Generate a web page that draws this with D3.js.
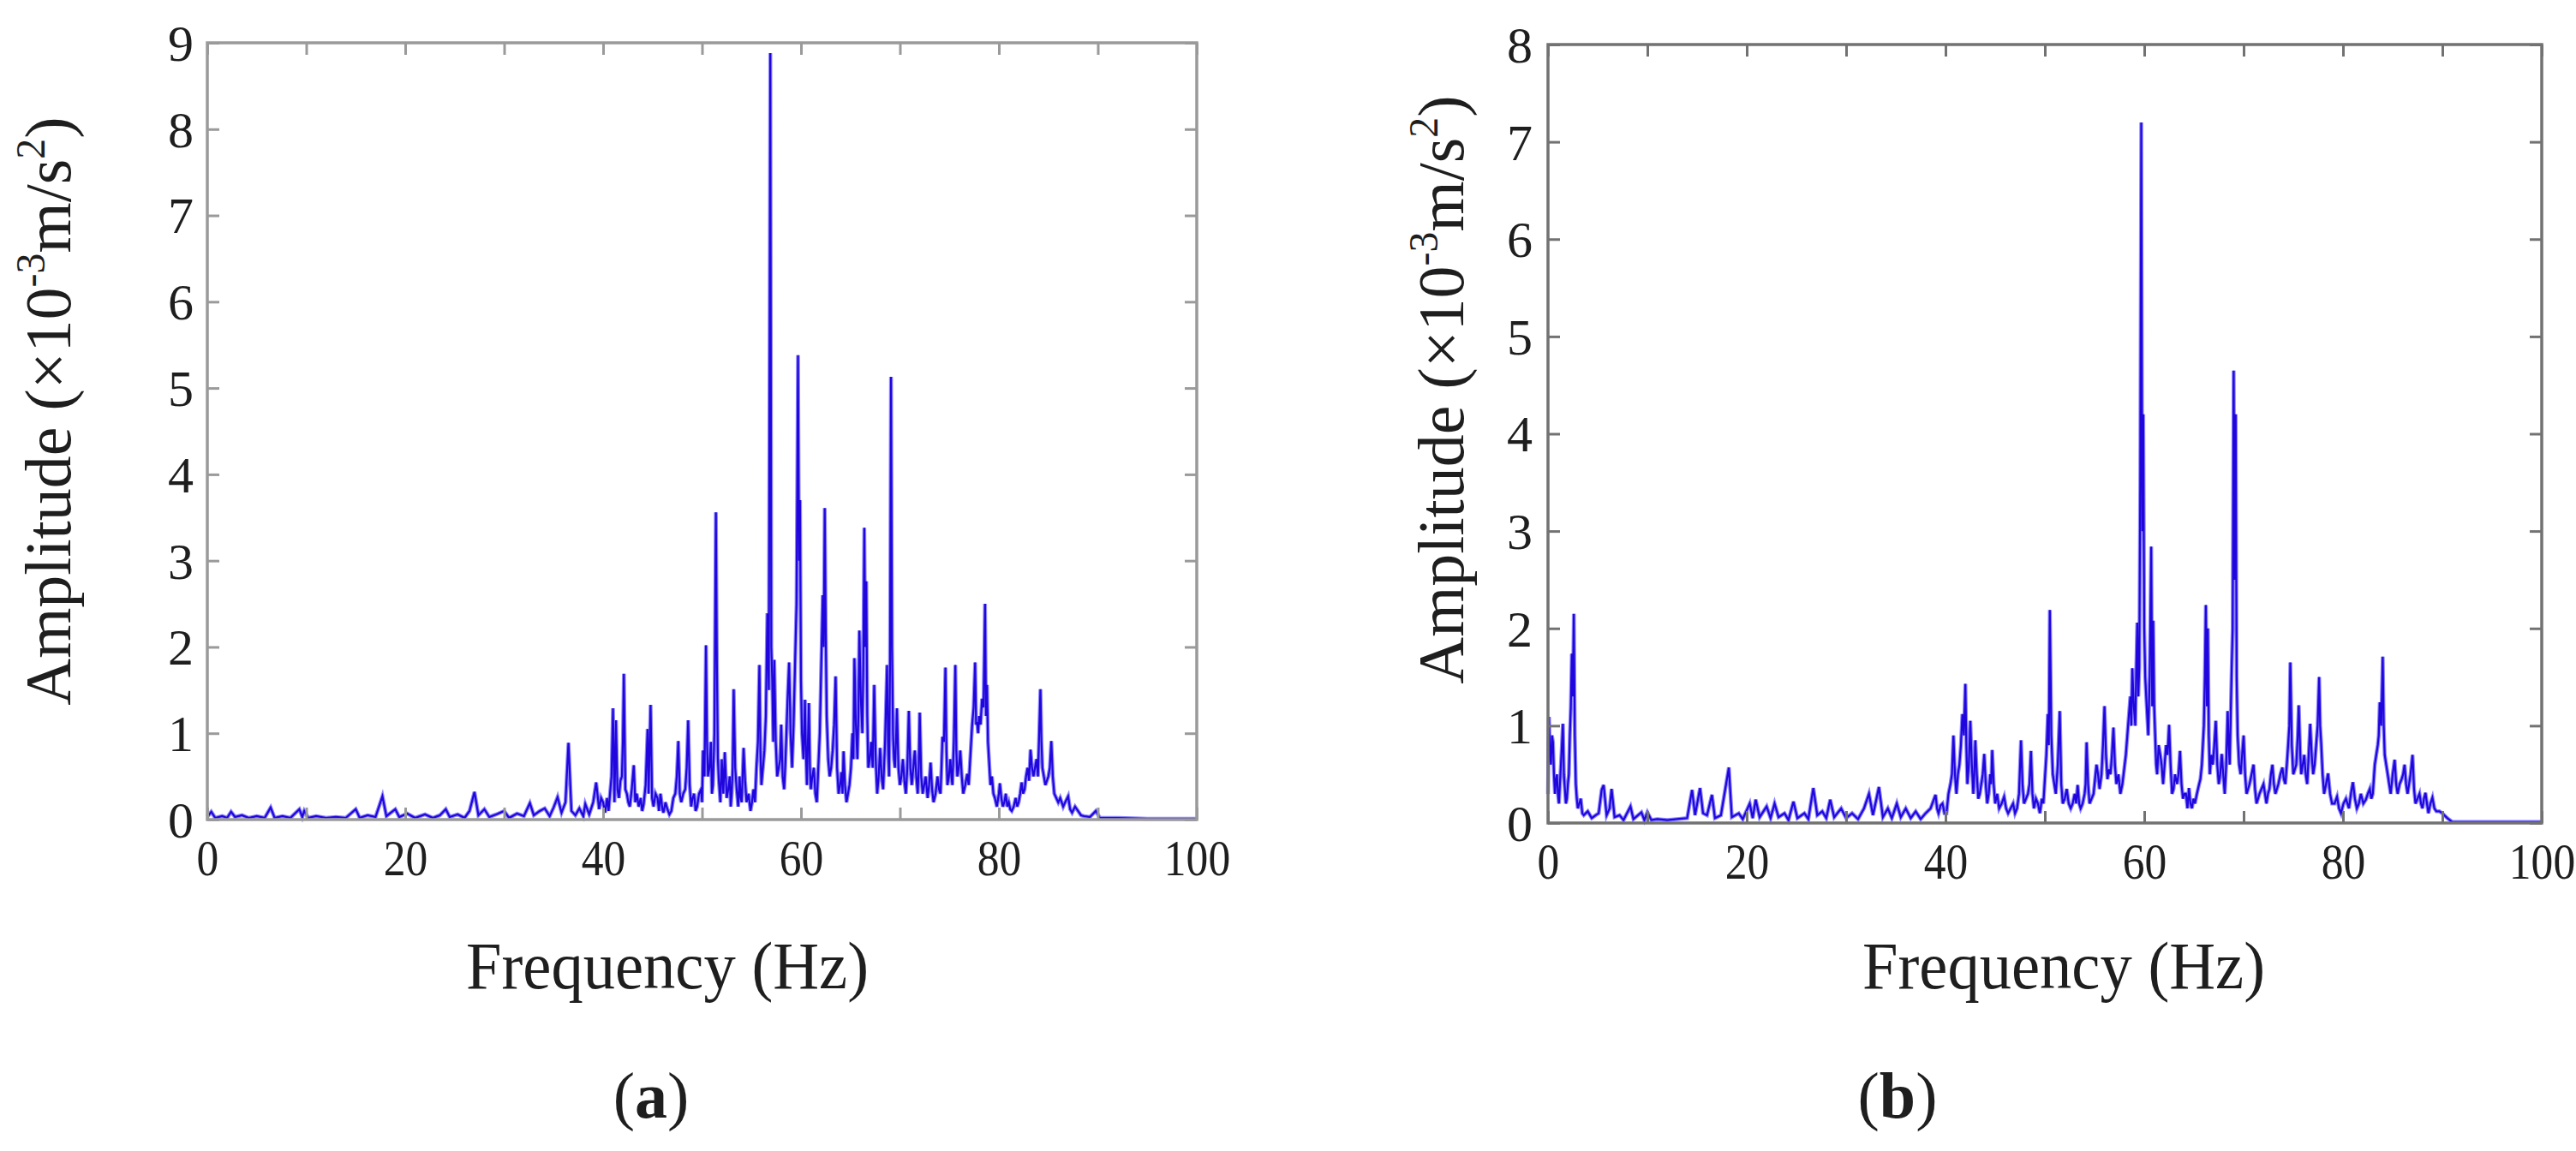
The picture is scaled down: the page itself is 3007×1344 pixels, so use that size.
<!DOCTYPE html>
<html>
<head>
<meta charset="utf-8">
<script src="https://cdn.jsdelivr.net/npm/d3@7"></script>
<style>
  html, body { margin: 0; padding: 0; background: #fff; }
  text { font-family: "Liberation Serif", "Times New Roman", serif; fill: #1e1e1e; }
</style>
</head>
<body>
<div id="chart"></div>
<script>
// spectrum (a): [frequency Hz, amplitude x10^-3 m/s^2]
var specA = [
  [0,0.03],[0.4,0.09],[0.8,0.02],[1.5,0.04],[2.0,0.02],[2.4,0.09],[2.8,0.03],[3.5,0.05],[4.2,0.02],[5.0,0.04],
  [5.8,0.02],[6.4,0.14],[6.8,0.02],[7.6,0.04],[8.4,0.02],[9.3,0.12],[9.6,0.03],[9.8,0.1],[10.2,0.02],[11.0,0.04],
  [12.0,0.02],[13.0,0.03],[14.0,0.02],[15.0,0.12],[15.4,0.02],[16.2,0.05],[17.0,0.03],[17.7,0.27],[18.1,0.04],[19.0,0.12],
  [19.4,0.03],[20.2,0.07],[21.0,0.02],[22.0,0.06],[22.8,0.02],[23.5,0.05],[24.1,0.12],[24.5,0.03],[25.3,0.06],[26.0,0.02],
  [26.5,0.1],[27.0,0.32],[27.4,0.05],[28.0,0.12],[28.5,0.03],[29.2,0.06],[30.0,0.1],[30.5,0.02],[31.3,0.07],[32.0,0.04],
  [32.6,0.19],[33.0,0.05],[33.6,0.1],[34.1,0.13],[34.6,0.04],[35.0,0.14],[35.4,0.26],[35.8,0.08],[36.2,0.2],[36.5,0.89],
  [36.8,0.1],[37.2,0.05],[37.6,0.13],[38.0,0.04],[38.2,0.18],[38.6,0.06],[39.0,0.2],[39.3,0.43],[39.6,0.12],[39.8,0.25],
  [40.0,0.2],[40.2,0.08],[40.4,0.25],[40.55,0.1],[40.7,0.3],[40.85,0.5],[41.0,1.29],[41.15,0.2],[41.3,1.15],[41.45,0.35],
  [41.6,0.25],[41.75,0.45],[41.9,0.5],[42.0,0.9],[42.1,1.69],[42.25,0.35],[42.4,0.3],[42.55,0.2],[42.7,0.15],[42.9,0.35],
  [43.1,0.63],[43.25,0.2],[43.4,0.3],[43.6,0.15],[43.8,0.25],[43.95,0.1],[44.1,0.18],[44.3,0.4],[44.5,1.05],[44.6,0.3],
  [44.8,1.33],[44.95,0.25],[45.1,0.15],[45.3,0.3],[45.5,0.25],[45.65,0.1],[45.8,0.3],[46.0,0.12],[46.1,0.08],[46.3,0.2],
  [46.5,0.12],[46.7,0.06],[46.9,0.1],[47.1,0.25],[47.3,0.3],[47.45,0.5],[47.6,0.91],[47.75,0.3],[47.9,0.2],[48.1,0.3],
  [48.3,0.35],[48.45,0.6],[48.6,1.15],[48.75,0.4],[48.9,0.15],[49.05,0.25],[49.2,0.3],[49.35,0.1],[49.5,0.15],[49.7,0.3],
  [49.9,0.35],[50.0,0.2],[50.1,0.8],[50.25,0.5],[50.4,2.02],[50.5,0.9],[50.6,0.5],[50.75,0.6],[50.9,0.9],[51.0,0.3],
  [51.1,0.4],[51.25,1.0],[51.4,3.56],[51.5,1.82],[51.6,0.7],[51.7,0.45],[51.85,0.2],[52.0,0.7],[52.15,0.3],[52.3,0.78],
  [52.4,0.5],[52.5,0.25],[52.65,0.35],[52.8,0.5],[52.9,0.15],[53.0,0.3],[53.1,0.6],[53.2,1.51],[53.35,0.6],[53.5,0.35],
  [53.65,0.15],[53.8,0.5],[53.9,0.25],[54.0,0.2],[54.1,0.5],[54.2,0.83],[54.35,0.45],[54.5,0.2],[54.7,0.3],[54.9,0.1],
  [55.05,0.2],[55.2,0.35],[55.35,0.2],[55.5,0.6],[55.65,0.9],[55.8,1.79],[55.9,0.8],[56.0,0.4],[56.15,0.6],[56.3,0.8],
  [56.45,1.2],[56.6,2.39],[56.75,1.5],[56.9,8.88],[57.0,2.0],[57.1,1.6],[57.2,0.9],[57.3,1.85],[57.45,0.9],[57.6,0.5],
  [57.75,0.6],[57.9,0.7],[58.0,1.1],[58.15,0.5],[58.3,0.35],[58.4,0.6],[58.5,0.9],[58.65,1.4],[58.8,1.82],[58.95,1.0],
  [59.1,0.6],[59.25,1.1],[59.4,1.8],[59.55,2.5],[59.7,5.38],[59.8,3.0],[59.9,3.7],[60.0,1.6],[60.1,1.0],[60.25,0.7],
  [60.4,1.39],[60.5,0.8],[60.6,0.4],[60.7,0.9],[60.8,1.35],[60.9,0.6],[61.0,0.35],[61.15,0.5],[61.3,0.6],[61.45,0.3],
  [61.6,0.2],[61.75,0.6],[61.9,1.0],[62.05,1.8],[62.2,2.6],[62.3,2.0],[62.4,3.61],[62.5,2.2],[62.6,1.2],[62.75,0.7],
  [62.9,0.5],[63.05,0.6],[63.2,0.8],[63.35,1.1],[63.5,1.66],[63.65,0.6],[63.8,0.3],[63.95,0.4],[64.1,0.55],[64.2,0.3],
  [64.3,0.79],[64.45,0.4],[64.6,0.2],[64.75,0.3],[64.9,0.4],[65.05,0.6],[65.2,1.0],[65.3,0.7],[65.4,1.87],[65.55,1.1],
  [65.7,0.7],[65.8,1.2],[65.9,2.19],[66.05,1.4],[66.2,1.0],[66.3,1.8],[66.4,3.38],[66.5,2.0],[66.6,2.76],[66.7,1.2],
  [66.8,0.6],[66.95,0.7],[67.1,0.9],[67.25,0.6],[67.4,1.56],[67.55,0.7],[67.7,0.3],[67.85,0.5],[68.0,0.83],[68.15,0.5],
  [68.3,0.35],[68.5,0.9],[68.7,1.79],[68.8,0.9],[68.9,0.5],[69.0,1.8],[69.1,5.13],[69.2,2.0],[69.3,1.0],[69.4,0.7],
  [69.5,0.6],[69.6,0.9],[69.7,1.29],[69.85,0.6],[70.0,0.4],[70.15,0.5],[70.3,0.7],[70.45,0.45],[70.6,0.3],[70.75,0.6],
  [70.9,1.26],[71.05,0.6],[71.2,0.4],[71.35,0.6],[71.5,0.8],[71.65,0.5],[71.8,0.3],[71.9,0.6],[72.0,1.24],[72.15,0.5],
  [72.3,0.3],[72.45,0.4],[72.6,0.5],[72.8,0.25],[72.95,0.4],[73.1,0.66],[73.25,0.35],[73.4,0.2],[73.6,0.3],[73.8,0.5],
  [73.95,0.35],[74.1,0.3],[74.2,0.6],[74.3,0.96],[74.45,0.9],[74.6,1.76],[74.7,0.8],[74.8,0.4],[74.95,0.5],[75.1,0.7],
  [75.2,0.5],[75.3,0.4],[75.45,0.9],[75.6,1.79],[75.7,0.8],[75.8,0.5],[75.95,0.6],[76.1,0.8],[76.25,0.5],[76.4,0.3],
  [76.6,0.4],[76.8,0.53],[76.95,0.4],[77.1,0.7],[77.2,0.9],[77.3,1.1],[77.45,1.3],[77.6,1.82],[77.7,1.1],[77.8,1.13],
  [77.9,1.0],[78.0,1.2],[78.15,1.1],[78.3,1.4],[78.45,1.3],[78.6,2.5],[78.7,1.2],[78.8,1.56],[78.9,0.9],[79.0,0.7],
  [79.15,0.4],[79.3,0.5],[79.45,0.3],[79.6,0.25],[79.8,0.15],[80.0,0.3],[80.1,0.42],[80.25,0.25],[80.4,0.15],[80.55,0.2],
  [80.7,0.3],[80.85,0.15],[81.0,0.2],[81.15,0.12],[81.3,0.1],[81.5,0.15],[81.7,0.25],[81.85,0.15],[82.0,0.2],[82.15,0.3],
  [82.3,0.43],[82.45,0.3],[82.6,0.35],[82.75,0.5],[82.9,0.6],[83.05,0.45],[83.2,0.81],[83.35,0.6],[83.5,0.5],[83.65,0.6],
  [83.8,0.7],[83.95,0.5],[84.05,0.9],[84.2,1.51],[84.3,0.9],[84.4,0.6],[84.55,0.5],[84.7,0.4],[84.85,0.45],[85.0,0.5],
  [85.15,0.6],[85.3,0.91],[85.45,0.5],[85.6,0.3],[85.8,0.25],[86.0,0.2],[86.2,0.25],[86.5,0.15],[86.7,0.2],[87.0,0.27],
  [87.2,0.12],[87.4,0.08],[87.7,0.15],[88.0,0.1],[88.3,0.05],[88.6,0.04],[89.2,0.03],[89.8,0.1],[90.2,0.02],[92,0.02],
  [95,0.01],[100,0.01]
]

// spectrum (b)
var specB = [
  [0,0.3],[0.05,0.8],[0.1,1.09],[0.2,0.7],[0.3,0.6],[0.4,0.9],[0.5,0.83],[0.6,0.5],[0.7,0.3],[0.8,0.45],
  [0.9,0.5],[1.0,0.3],[1.1,0.2],[1.2,0.4],[1.3,0.6],[1.4,0.8],[1.5,1.02],[1.6,0.5],[1.7,0.35],[1.8,0.2],
  [1.9,0.25],[2.0,0.4],[2.1,0.5],[2.2,0.9],[2.3,1.2],[2.4,1.74],[2.5,1.3],[2.6,2.15],[2.7,0.9],[2.8,0.4],
  [2.9,0.25],[3.0,0.15],[3.15,0.2],[3.3,0.25],[3.45,0.1],[3.6,0.08],[4.0,0.12],[4.4,0.05],[4.8,0.08],[5.1,0.1],
  [5.4,0.34],[5.6,0.39],[5.9,0.08],[6.2,0.15],[6.4,0.35],[6.7,0.06],[7.2,0.08],[7.6,0.03],[8.3,0.17],[8.6,0.04],
  [9.4,0.11],[9.7,0.03],[10.0,0.11],[10.4,0.03],[11,0.04],[12,0.03],[13,0.04],[14.0,0.05],[14.5,0.34],[14.8,0.08],
  [15.3,0.36],[15.6,0.1],[16.0,0.08],[16.5,0.29],[16.8,0.05],[17.4,0.08],[18.2,0.57],[18.5,0.06],[19.2,0.1],[19.6,0.04],
  [20.3,0.2],[20.6,0.05],[20.9,0.24],[21.3,0.06],[22.0,0.17],[22.4,0.05],[22.8,0.2],[23.2,0.06],[23.8,0.1],[24.2,0.03],
  [24.7,0.22],[25.1,0.05],[25.8,0.1],[26.2,0.04],[26.7,0.36],[27.1,0.08],[27.6,0.12],[28.0,0.05],[28.4,0.24],[28.8,0.06],
  [29.5,0.15],[30.0,0.05],[30.6,0.1],[31.2,0.04],[31.8,0.15],[32.3,0.3],[32.7,0.08],[33.3,0.37],[33.7,0.06],[34.2,0.15],
  [34.6,0.05],[35.1,0.2],[35.5,0.06],[36.0,0.15],[36.5,0.05],[37.0,0.12],[37.5,0.04],[38.0,0.1],[38.5,0.15],[39.0,0.29],
  [39.15,0.15],[39.3,0.1],[39.5,0.18],[39.7,0.2],[39.9,0.1],[40.1,0.1],[40.3,0.3],[40.5,0.4],[40.65,0.5],[40.8,0.9],
  [40.95,0.5],[41.1,0.3],[41.25,0.5],[41.4,0.6],[41.55,0.8],[41.7,1.12],[41.85,0.9],[42.0,1.43],[42.1,0.8],[42.2,0.4],
  [42.35,0.6],[42.5,1.05],[42.65,0.6],[42.8,0.3],[42.9,0.5],[43.0,0.85],[43.15,0.5],[43.3,0.25],[43.45,0.3],[43.6,0.4],
  [43.75,0.5],[43.9,0.71],[44.05,0.4],[44.2,0.2],[44.35,0.3],[44.5,0.5],[44.6,0.4],[44.7,0.75],[44.85,0.4],[45.0,0.2],
  [45.2,0.3],[45.4,0.15],[45.65,0.2],[45.9,0.27],[46.1,0.15],[46.3,0.1],[46.55,0.15],[46.8,0.2],[47.0,0.1],[47.2,0.15],
  [47.4,0.3],[47.6,0.85],[47.75,0.4],[47.9,0.2],[48.1,0.25],[48.3,0.3],[48.45,0.4],[48.6,0.74],[48.75,0.3],[48.9,0.15],
  [49.1,0.25],[49.3,0.2],[49.5,0.1],[49.7,0.25],[49.85,0.2],[50.0,0.45],[50.15,0.7],[50.3,1.12],[50.4,0.8],[50.5,2.19],
  [50.65,0.9],[50.8,0.5],[50.95,0.4],[51.1,0.3],[51.3,0.6],[51.5,1.15],[51.65,0.4],[51.8,0.2],[52.0,0.25],[52.2,0.35],
  [52.4,0.2],[52.6,0.15],[52.8,0.2],[53.0,0.3],[53.15,0.2],[53.3,0.39],[53.45,0.2],[53.6,0.15],[53.8,0.2],[54.0,0.3],
  [54.1,0.4],[54.2,0.83],[54.35,0.4],[54.5,0.2],[54.7,0.25],[54.9,0.3],[55.05,0.45],[55.2,0.6],[55.35,0.5],[55.5,0.35],
  [55.7,0.5],[55.85,0.8],[56.0,1.2],[56.15,0.7],[56.3,0.45],[56.45,0.55],[56.6,0.5],[56.75,0.7],[56.9,0.98],[57.05,0.6],
  [57.2,0.4],[57.4,0.5],[57.6,0.3],[57.8,0.4],[58.0,0.57],[58.15,0.7],[58.3,0.9],[58.45,1.1],[58.6,1.3],[58.7,1.0],
  [58.8,1.59],[58.95,1.2],[59.1,1.0],[59.2,1.6],[59.3,2.06],[59.4,1.3],[59.5,1.6],[59.6,3.5],[59.7,7.2],[59.8,3.0],
  [59.9,4.2],[60.0,2.0],[60.1,1.5],[60.25,1.2],[60.4,0.9],[60.55,1.5],[60.7,2.84],[60.8,1.2],[60.9,2.08],[61.0,1.2],
  [61.1,0.9],[61.2,0.6],[61.3,0.5],[61.45,0.8],[61.6,0.71],[61.75,0.6],[61.9,0.4],[62.05,0.6],[62.2,0.8],[62.35,0.7],
  [62.5,1.01],[62.65,0.6],[62.8,0.3],[62.95,0.35],[63.1,0.5],[63.3,0.4],[63.45,0.5],[63.6,0.74],[63.75,0.4],[63.9,0.25],
  [64.05,0.3],[64.2,0.3],[64.35,0.15],[64.5,0.36],[64.65,0.2],[64.8,0.15],[64.95,0.25],[65.1,0.2],[65.3,0.3],[65.5,0.39],
  [65.65,0.45],[65.8,0.6],[65.9,0.8],[66.0,1.0],[66.1,1.5],[66.2,2.24],[66.3,1.2],[66.4,2.0],[66.5,0.9],[66.6,0.5],
  [66.75,0.7],[66.9,0.6],[67.05,0.8],[67.2,1.05],[67.35,0.6],[67.5,0.4],[67.65,0.5],[67.8,0.71],[67.95,0.5],[68.1,0.3],
  [68.25,0.6],[68.4,1.15],[68.5,0.8],[68.6,0.6],[68.7,1.1],[68.8,1.59],[68.9,2.0],[69.0,4.65],[69.1,2.5],[69.2,4.2],
  [69.3,1.5],[69.4,0.9],[69.55,0.6],[69.7,0.5],[69.85,0.7],[70.0,0.9],[70.15,0.5],[70.3,0.3],[70.45,0.35],[70.6,0.4],
  [70.8,0.5],[71.0,0.6],[71.15,0.35],[71.3,0.2],[71.45,0.25],[71.6,0.3],[71.8,0.35],[72.0,0.4],[72.15,0.3],[72.3,0.2],
  [72.45,0.3],[72.6,0.35],[72.75,0.5],[72.9,0.6],[73.05,0.4],[73.2,0.3],[73.35,0.35],[73.5,0.4],[73.7,0.5],[73.9,0.57],
  [74.05,0.45],[74.2,0.4],[74.35,0.6],[74.5,0.83],[74.6,1.0],[74.7,1.65],[74.85,0.8],[75.0,0.5],[75.15,0.55],[75.3,0.6],
  [75.45,0.9],[75.55,1.21],[75.7,0.7],[75.8,0.5],[75.95,0.6],[76.1,0.7],[76.25,0.5],[76.4,0.4],[76.55,0.7],[76.7,1.02],
  [76.85,0.7],[77.0,0.5],[77.15,0.6],[77.3,0.8],[77.45,1.0],[77.6,1.5],[77.7,1.0],[77.8,0.83],[77.95,0.5],[78.1,0.3],
  [78.3,0.4],[78.5,0.51],[78.7,0.3],[78.9,0.2],[79.15,0.2],[79.4,0.27],[79.6,0.15],[79.8,0.1],[80.05,0.2],[80.3,0.25],
  [80.45,0.2],[80.6,0.15],[80.8,0.3],[81.0,0.42],[81.2,0.25],[81.4,0.15],[81.6,0.2],[81.8,0.3],[82.05,0.2],[82.3,0.24],
  [82.5,0.3],[82.7,0.35],[82.85,0.25],[83.0,0.3],[83.1,0.45],[83.2,0.6],[83.35,0.7],[83.5,0.8],[83.6,0.9],[83.7,1.24],
  [83.85,1.0],[84.0,1.71],[84.1,1.0],[84.2,0.7],[84.35,0.6],[84.5,0.5],[84.65,0.4],[84.8,0.3],[85.0,0.5],[85.2,0.65],
  [85.35,0.4],[85.5,0.3],[85.7,0.4],[85.9,0.45],[86.05,0.5],[86.2,0.6],[86.35,0.4],[86.5,0.3],[86.65,0.4],[86.8,0.5],
  [86.9,0.6],[87.0,0.7],[87.15,0.35],[87.3,0.2],[87.5,0.25],[87.7,0.3],[87.85,0.2],[88.0,0.15],[88.15,0.25],[88.3,0.31],
  [88.45,0.2],[88.6,0.1],[88.8,0.2],[89.0,0.26],[89.2,0.15],[89.4,0.12],[89.7,0.12],[90.0,0.1],[90.5,0.05],[91.0,0.01],
  [95,0.01],[100,0.01]
]

var xTickVals  = [0,10,20,30,40,50,60,70,80,90,100],
    xLabelVals = [0,20,40,60,80,100],
    yTicksA    = [0,1,2,3,4,5,6,7,8,9],
    yTicksB    = [0,1,2,3,4,5,6,7,8]

var svg = d3.select("#chart").append("svg")
  .attr("width", 3007)
  .attr("height", 1344)

svg.append("rect").attr("width", 3007).attr("height", 1344).attr("fill", "#fff")

function drawPanel(p) { //{{{
  var x = d3.scaleLinear().domain([0, 100]).range([p.left, p.right]),
      y = d3.scaleLinear().domain([0, p.ymax]).range([p.bottom, p.top])

  var g = svg.append("g")

  var line = d3.line()
    .x(d => x(d[0]))
    .y(d => y(d[1]))

  // pale halo under the trace, like the smeared jpeg original
  g.append("path")
    .datum(p.data)
    .attr("fill", "none")
    .attr("stroke", "#8c86ff")
    .attr("stroke-width", 4.5)
    .attr("d", line)

  g.append("path")
    .datum(p.data)
    .attr("fill", "none")
    .attr("stroke", "#2006dc")
    .attr("stroke-width", 2.2)
    .attr("d", line)

  var tick = 14

  // bottom, with labels
  var bx = g.append("g")
    .attr("transform", "translate(0," + p.bottom + ")")
    .call(d3.axisBottom(x).tickValues(xTickVals).tickSize(-tick).tickPadding(22)
      .tickFormat(d => xLabelVals.includes(d) ? d : ""))
  // top
  var tx = g.append("g")
    .attr("transform", "translate(0," + p.top + ")")
    .call(d3.axisTop(x).tickValues(xTickVals).tickSize(-tick).tickFormat(""))
  // left, with labels
  var ly = g.append("g")
    .attr("transform", "translate(" + p.left + ",0)")
    .call(d3.axisLeft(y).tickValues(p.yticks).tickSize(-tick).tickPadding(p.ypad).tickFormat(d3.format("d")))
  // right
  var ry = g.append("g")
    .attr("transform", "translate(" + p.right + ",0)")
    .call(d3.axisRight(y).tickValues(p.yticks).tickSize(-tick).tickFormat(""))

  ;[bx, tx, ly, ry].forEach(a => {
    a.select(".domain").remove()
    a.selectAll(".tick line").attr("stroke", p.frame).attr("stroke-width", 3)
  })

  bx.selectAll(".tick text")
    .attr("font-size", 60)
    .attr("fill", "#222")
    .attr("transform", "scale(0.86,1)")
  ly.selectAll(".tick text")
    .attr("font-size", 60)
    .attr("fill", "#222")
    .attr("dy", "0.34em")

  g.append("rect")
    .attr("x", p.left)
    .attr("y", p.top)
    .attr("width", p.right - p.left)
    .attr("height", p.bottom - p.top)
    .attr("fill", "none")
    .attr("stroke", p.frame)
    .attr("stroke-width", 3.5)

  // axis titles
  g.append("text")
    .attr("x", p.xlabX)
    .attr("y", 1154)
    .attr("text-anchor", "middle")
    .attr("font-size", 78)
    .attr("textLength", 470)
    .attr("lengthAdjust", "spacingAndGlyphs")
    .text("Frequency (Hz)")

  var yl = g.append("text")
    .attr("transform", "translate(" + p.ylabX + "," + p.ylabY + ") rotate(-90)")
    .attr("text-anchor", "middle")
    .attr("font-size", 76)
  yl.append("tspan").text("Amplitude (\u00d710")
  yl.append("tspan").attr("font-size", 48).attr("dy", -30).text("-3")
  yl.append("tspan").attr("dy", 30).text("m/s")
  yl.append("tspan").attr("font-size", 48).attr("dy", -30).text("2")
  yl.append("tspan").attr("dy", 30).text(")")

  // panel tag
  var tag = g.append("text")
    .attr("x", p.tagX)
    .attr("y", 1305)
    .attr("text-anchor", "middle")
    .attr("font-size", 76)
  tag.append("tspan").text("(")
  tag.append("tspan").attr("font-weight", "bold").text(p.tag)
  tag.append("tspan").text(")")
} //}}}

drawPanel({
  data: specA, ymax: 9, yticks: yTicksA,
  left: 242, right: 1397, top: 50, bottom: 957,
  frame: "#9a9a9a", ypad: 16,
  xlabX: 779, ylabX: 82, ylabY: 480,
  tag: "a", tagX: 760
})

drawPanel({
  data: specB, ymax: 8, yticks: yTicksB,
  left: 1807, right: 2967, top: 52, bottom: 961,
  frame: "#727272", ypad: 18,
  xlabX: 2409, ylabX: 1708, ylabY: 455,
  tag: "b", tagX: 2215
})
</script>
</body>
</html>
